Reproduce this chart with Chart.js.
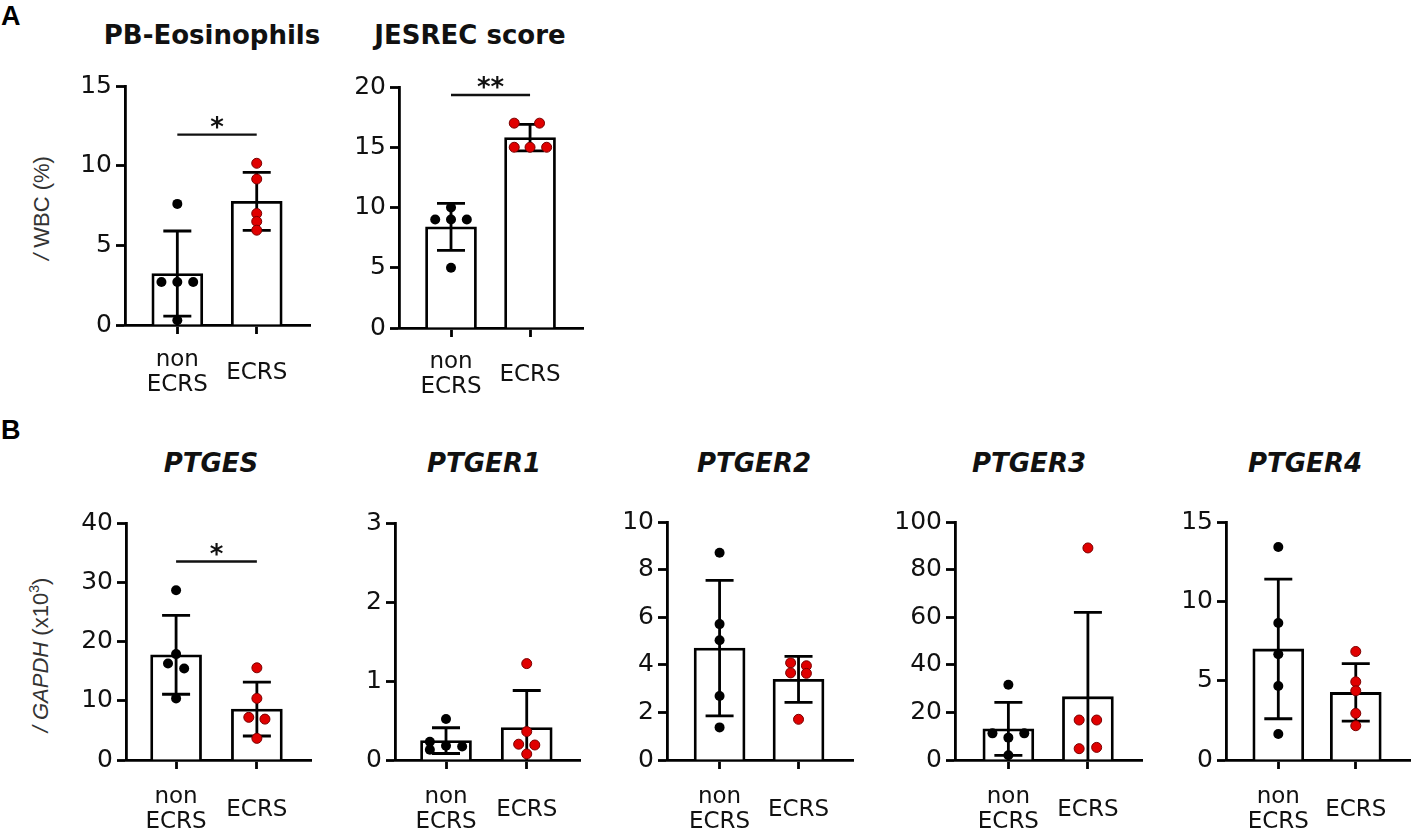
<!DOCTYPE html>
<html>
<head>
<meta charset="utf-8">
<script src="https://cdn.jsdelivr.net/npm/chart.js@4.4.1/dist/chart.umd.min.js"></script>
<style>
    body { margin: 0; background: #fff; }
    #fig { position: relative; width: 1418px; height: 836px; overflow: hidden; font-family: 'DejaVu Sans', sans-serif; }
    #fig canvas { position: absolute; }
    .letter { position: absolute; left: 1px; font: bold 27px 'Liberation Sans', Arial, sans-serif; line-height: 27px; }
    .title { position: absolute; font: bold 26px 'DejaVu Sans', sans-serif; line-height: 26px; transform: translateX(-50%); white-space: nowrap; color: #111; }
    .title.gene { font-style: italic; }
    .ylab { position: absolute; font: 22px 'Liberation Sans', Arial, sans-serif; color: #333; transform: translate(-50%, -50%) rotate(-90deg); white-space: nowrap; }
    .ylab i { font-style: italic; }
    .ylab sup { font-size: 14px; }
</style>
</head>
<body>
<div id="fig">
    <div class="letter" style="top:3px">A</div>
    <div class="letter" style="top:417px">B</div>
    <div class="ylab" style="left:42px; top:208px"><i>/</i> WBC (%)</div>
    <div class="ylab" style="left:40px; top:655px"><i>/ GAPDH</i> (x10<sup>3</sup>)</div>
</div>
<script>
// Categories (x axis)
const groupLabels = [['non', 'ECRS'], 'ECRS'];

// PB-Eosinophils (/WBC %)
const eosTicks = [0, 5, 10, 15];
const eosMean = [3.23, 7.76];
const eosSD = [2.67, 1.82];
const eosNon = [7.6, 2.7, 2.7, 2.7, 0.3];
const eosNonJitter = [0, -0.2, 0, 0.2, 0];
const eosEcrs = [10.15, 9.16, 7.0, 6.5, 5.95];
const eosEcrsJitter = [0, 0, 0, 0, 0];

// JESREC score
const jesTicks = [0, 5, 10, 15, 20];
const jesMean = [8.4, 15.8];
const jesSD = [1.95, 1.1];
const jesNon = [10, 9, 9, 9, 5];
const jesNonJitter = [0, -0.2, 0, 0.2, 0];
const jesEcrs = [17, 17, 15, 15, 15];
const jesEcrsJitter = [-0.2, 0.12, -0.2, 0, 0.21];

// PTGES / GAPDH (x10^3)
const ptgesTicks = [0, 10, 20, 30, 40];
const ptgesMean = [17.75, 8.6];
const ptgesSD = [6.65, 4.55];
const ptgesNon = [28.65, 17.87, 16.3, 15.45, 10.4];
const ptgesNonJitter = [0, 0, -0.1, 0.1, 0];
const ptgesEcrs = [15.56, 10.4, 7.2, 6.9, 3.65];
const ptgesEcrsJitter = [0, 0, -0.1, 0.1, 0];

// PTGER1
const ep1Ticks = [0, 1, 2, 3];
const ep1Mean = [0.245, 0.41];
const ep1SD = [0.163, 0.47];
const ep1Non = [0.52, 0.23, 0.18, 0.17, 0.13];
const ep1NonJitter = [0, -0.2, 0, 0.2, -0.2];
const ep1Ecrs = [1.22, 0.36, 0.2, 0.19, 0.076];
const ep1EcrsJitter = [0, 0, -0.1, 0.1, 0];

// PTGER2
const ep2Ticks = [0, 2, 4, 6, 8, 10];
const ep2Mean = [4.7, 3.39];
const ep2SD = [2.845, 0.965];
const ep2Non = [8.71, 5.71, 5.03, 2.69, 1.37];
const ep2NonJitter = [0, 0, 0, 0, 0];
const ep2Ecrs = [4.08, 3.96, 3.66, 3.64, 1.71];
const ep2EcrsJitter = [-0.1, 0.1, -0.1, 0.1, 0];

// PTGER3
const ep3Ticks = [0, 20, 40, 60, 80, 100];
const ep3Mean = [13.08, 26.6];
const ep3SD = [11.12, 35.4];
const ep3Non = [31.6, 11.2, 11.2, 9.4, 1.96];
const ep3NonJitter = [0, -0.2, 0.2, 0, 0];
const ep3Ecrs = [89.1, 16.8, 16.8, 4.76, 5.3];
const ep3EcrsJitter = [0, -0.11, 0.11, -0.11, 0.11];

// PTGER4
const ep4Ticks = [0, 5, 10, 15];
const ep4Mean = [7.0, 4.26];
const ep4SD = [4.4, 1.815];
const ep4Non = [13.43, 8.64, 6.67, 4.66, 1.64];
const ep4NonJitter = [0, 0, 0, 0, 0];
const ep4Ecrs = [6.84, 4.93, 4.36, 2.94, 2.16];
const ep4EcrsJitter = [0, 0, 0, 0, 0];

// Significance marks: [height in data units, label]
const eosSig = [11.95, '*'];
const jesSig = [19.34, '**'];
const ptgesSig = [33.5, '*'];

// Panel placement (pixels) and axis ranges
const panels = [
    { title: 'PB-Eosinophils', gene: false, titleX: 212, titleY: 44, left: 125, right: 310, y0: 325, yTop: 86, xMin: -0.659, xMax: 1.671, labelPad: 26,
      ticks: eosTicks, mean: eosMean, sd: eosSD, non: eosNon, nonJ: eosNonJitter, ecrs: eosEcrs, ecrsJ: eosEcrsJitter, sig: eosSig },
    { title: 'JESREC score', gene: false, titleX: 470, titleY: 44, left: 399, right: 583, y0: 328.3, yTop: 87.3, xMin: -0.658, xMax: 1.67, labelPad: 25,
      ticks: jesTicks, mean: jesMean, sd: jesSD, non: jesNon, nonJ: jesNonJitter, ecrs: jesEcrs, ecrsJ: jesEcrsJitter, sig: jesSig },
    { title: 'PTGES', gene: true, titleX: 211, titleY: 472, left: 126, right: 310.7, y0: 760, yTop: 522.7, xMin: -0.62, xMax: 1.67, labelPad: 28,
      ticks: ptgesTicks, mean: ptgesMean, sd: ptgesSD, non: ptgesNon, nonJ: ptgesNonJitter, ecrs: ptgesEcrs, ecrsJ: ptgesEcrsJitter, sig: ptgesSig },
    { title: 'PTGER1', gene: true, titleX: 484, titleY: 472, left: 395, right: 580, y0: 759.3, yTop: 522.7, xMin: -0.632, xMax: 1.66, labelPad: 28,
      ticks: ep1Ticks, mean: ep1Mean, sd: ep1SD, non: ep1Non, nonJ: ep1NonJitter, ecrs: ep1Ecrs, ecrsJ: ep1EcrsJitter },
    { title: 'PTGER2', gene: true, titleX: 754, titleY: 472, left: 666.7, right: 852.7, y0: 760, yTop: 521.7, xMin: -0.666, xMax: 1.69, labelPad: 28,
      ticks: ep2Ticks, mean: ep2Mean, sd: ep2SD, non: ep2Non, nonJ: ep2NonJitter, ecrs: ep2Ecrs, ecrsJ: ep2EcrsJitter },
    { title: 'PTGER3', gene: true, titleX: 1029, titleY: 472, left: 955, right: 1141.7, y0: 760, yTop: 521.7, xMin: -0.671, xMax: 1.68, labelPad: 28,
      ticks: ep3Ticks, mean: ep3Mean, sd: ep3SD, non: ep3Non, nonJ: ep3NonJitter, ecrs: ep3Ecrs, ecrsJ: ep3EcrsJitter },
    { title: 'PTGER4', gene: true, titleX: 1305, titleY: 472, left: 1226.3, right: 1410.7, y0: 760, yTop: 521.7, xMin: -0.675, xMax: 1.70, labelPad: 28,
      ticks: ep4Ticks, mean: ep4Mean, sd: ep4SD, non: ep4Non, nonJ: ep4NonJitter, ecrs: ep4Ecrs, ecrsJ: ep4EcrsJitter }
];

const PAD_TOP = 40, PAD_RIGHT = 12, Y_BOX = 80, X_BOX = 100;
const LINE = 2.8;

Chart.defaults.font.family = "'DejaVu Sans', sans-serif";

// Mean +/- SD whiskers, drawn right after the bars so dots sit on top
const errorBars = {
    id: 'errorBars',
    afterDatasetDraw(chart, args) {
        const ds = chart.data.datasets[args.index];
        if (!ds.sd) return;
        const ctx = chart.ctx;
        const y = chart.scales.y;
        ctx.save();
        ctx.strokeStyle = '#000';
        ctx.lineWidth = LINE;
        args.meta.data.forEach((bar, i) => {
            const m = ds.data[i].y;
            const hi = y.getPixelForValue(m + ds.sd[i]);
            const loVal = m - ds.sd[i];
            const lo = y.getPixelForValue(Math.max(0, loVal));
            ctx.beginPath();
            ctx.moveTo(bar.x, hi);
            ctx.lineTo(bar.x, lo);
            ctx.moveTo(bar.x - 14, hi);
            ctx.lineTo(bar.x + 14, hi);
            if (loVal > 0) {
                ctx.moveTo(bar.x - 14, lo);
                ctx.lineTo(bar.x + 14, lo);
            }
            ctx.stroke();
        });
        ctx.restore();
    }
};

function sigBar(sig) {
    return {
        id: 'sigBar',
        afterDraw(chart) {
            if (!sig) return;
            const ctx = chart.ctx;
            const x = chart.scales.x, y = chart.scales.y;
            const x0 = x.getPixelForValue(0), x1 = x.getPixelForValue(1);
            const py = y.getPixelForValue(sig[0]);
            ctx.save();
            ctx.strokeStyle = '#111';
            ctx.lineWidth = 2.4;
            ctx.beginPath();
            ctx.moveTo(x0, py);
            ctx.lineTo(x1, py);
            ctx.stroke();
            ctx.fillStyle = '#111';
            ctx.font = "bold 26px 'DejaVu Sans', sans-serif";
            ctx.textAlign = 'center';
            ctx.textBaseline = 'alphabetic';
            ctx.fillText(sig[1], (x0 + x1) / 2, py + 1);
            ctx.restore();
        }
    };
}

function axisStyle() {
    return {
        grid: { display: true, drawOnChartArea: false, drawTicks: true, tickLength: 9, tickWidth: LINE, tickColor: '#000', offset: false },
        border: { display: true, color: '#000', width: LINE }
    };
}

function makePanel(p) {
    const fig = document.getElementById('fig');

    const t = document.createElement('div');
    t.className = 'title' + (p.gene ? ' gene' : '');
    t.style.left = p.titleX + 'px';
    t.style.top = (p.titleY - 22) + 'px';
    t.textContent = p.title;
    fig.appendChild(t);

    const w = Math.round(p.right - p.left + Y_BOX + PAD_RIGHT);
    const h = Math.round(p.y0 - p.yTop + PAD_TOP + X_BOX);
    const canvas = document.createElement('canvas');
    canvas.width = w;
    canvas.height = h;
    canvas.style.width = w + 'px';
    canvas.style.height = h + 'px';
    canvas.style.left = (p.left - Y_BOX) + 'px';
    canvas.style.top = (p.yTop - PAD_TOP) + 'px';
    fig.appendChild(canvas);

    new Chart(canvas, {
        type: 'bar',
        data: {
            datasets: [
                {
                    type: 'bar',
                    data: p.mean.map((m, i) => ({ x: i, y: m })),
                    sd: p.sd,
                    backgroundColor: '#fff',
                    borderColor: '#000',
                    borderWidth: LINE,
                    barThickness: 51,
                    order: 3
                },
                {
                    type: 'scatter',
                    data: p.non.map((v, i) => ({ x: 0 + p.nonJ[i], y: v })),
                    pointRadius: 5,
                    backgroundColor: '#000',
                    borderColor: '#000',
                    borderWidth: 0,
                    clip: false,
                    order: 2
                },
                {
                    type: 'scatter',
                    data: p.ecrs.map((v, i) => ({ x: 1 + p.ecrsJ[i], y: v })),
                    pointRadius: 5,
                    backgroundColor: '#e00000',
                    borderColor: '#7a0000',
                    borderWidth: 1,
                    clip: false,
                    order: 1
                }
            ]
        },
        options: {
            responsive: false,
            animation: false,
            events: [],
            layout: { padding: { top: PAD_TOP, right: PAD_RIGHT, left: 0, bottom: 0 } },
            plugins: { legend: { display: false }, tooltip: { enabled: false } },
            scales: {
                x: {
                    type: 'linear',
                    min: p.xMin,
                    max: p.xMax,
                    offset: false,
                    afterBuildTicks: s => { s.ticks = [{ value: 0 }, { value: 1 }]; },
                    afterFit: s => { s.height = X_BOX; },
                    ...axisStyle(),
                    ticks: {
                        autoSkip: false, maxRotation: 0, minRotation: 0, crossAlign: 'center',
                        padding: p.labelPad, color: '#111', font: { size: 23, lineHeight: 1.1 },
                        callback: v => groupLabels[v]
                    }
                },
                y: {
                    min: 0,
                    max: p.ticks[p.ticks.length - 1],
                    afterBuildTicks: s => { s.ticks = p.ticks.map(v => ({ value: v })); },
                    afterFit: s => { s.width = Y_BOX; },
                    ...axisStyle(),
                    ticks: { padding: 4, color: '#111', font: { size: 25 }, callback: v => String(v) }
                }
            }
        },
        plugins: [errorBars, sigBar(p.sig)]
    });
}

panels.forEach(makePanel);
</script>
</body>
</html>
